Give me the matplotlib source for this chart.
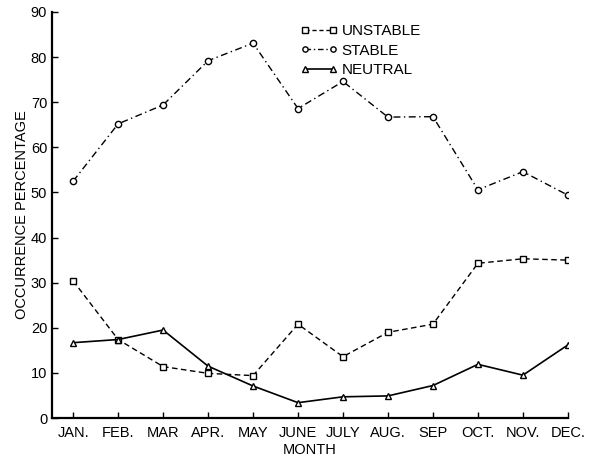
import numpy as np
import matplotlib
matplotlib.use('Agg')
import matplotlib.pyplot as plt
from matplotlib.lines import Line2D

plt.rcParams['font.family'] = ['Liberation Sans', 'DejaVu Sans']

months = ['JAN.', 'FEB.', 'MAR', 'APR.', 'MAY', 'JUNE', 'JULY', 'AUG.', 'SEP', 'OCT.', 'NOV.', 'DEC.']
unstable = [30.4, 17.4, 11.4, 9.9, 9.4, 20.8, 13.6, 19.0, 20.8, 34.3, 35.3, 35.0]
stable = [52.5, 65.2, 69.4, 79.2, 83.1, 68.6, 74.6, 66.7, 66.8, 50.6, 54.6, 49.4]
neutral = [16.7, 17.4, 19.5, 11.5, 7.1, 3.4, 4.7, 4.9, 7.2, 11.9, 9.5, 16.2]
series_names = ['UNSTABLE', 'STABLE', 'NEUTRAL']

fig = plt.figure(figsize=(5.95, 4.58), dpi=100)
ax = fig.add_axes([0.0874, 0.0873, 0.867, 0.8865])

x = np.arange(len(months))
ax.plot(x, unstable, color='black', lw=1.0, ls=(0, (4, 2.5)),
        marker='s', ms=4.2, mfc='white', mec='black', mew=1.0)
ax.plot(x, stable, color='black', lw=1.0, ls=(0, (5, 2.5, 1, 2.5)),
        marker='o', ms=4.5, mfc='white', mec='black', mew=1.0)
ax.plot(x, neutral, color='black', lw=1.2, ls='-',
        marker='^', ms=5, mfc='white', mec='black', mew=1.0)

ax.set_xlim(-0.47, 11.0)
ax.set_ylim(0, 90)
ax.set_xticks(x)
ax.set_xticklabels(months)
ax.set_yticks(np.arange(0, 91, 10))
ax.tick_params(direction='in', length=4, width=1, labelsize=10.5, colors='black')
ax.tick_params(axis='x', pad=6)
ax.spines['top'].set_visible(False)
ax.spines['right'].set_visible(False)
ax.spines['left'].set_linewidth(1.6)
ax.spines['bottom'].set_linewidth(1.6)

ax.set_xlabel('MONTH', fontsize=10.5, labelpad=2)
ax.set_ylabel('OCCURRENCE PERCENTAGE', fontsize=10.5, labelpad=1)

handles = [
    Line2D([], [], color='black', lw=1.0, ls=(0, (3, 2)), marker='s', ms=3.8, mfc='white', mec='black'),
    Line2D([], [], color='black', lw=1.0, ls=(0, (4, 2, 1, 2)), marker='o', ms=3.8, mfc='white', mec='black'),
    Line2D([], [], color='black', lw=1.2, ls='-', marker='^', ms=4.2, mfc='white', mec='black'),
]
ax.legend(handles, series_names, loc='upper left', bbox_to_anchor=(0.47, 0.985),
          frameon=False, numpoints=2, handlelength=2.4, handletextpad=0.3,
          labelspacing=0.35, fontsize=11, borderaxespad=0)

fig.savefig('out.png', dpi=100)
